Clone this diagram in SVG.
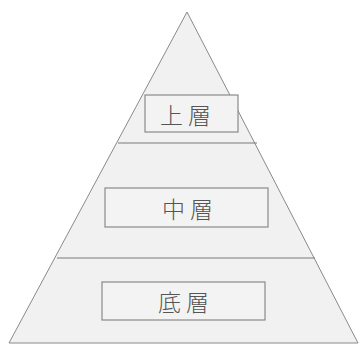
<svg xmlns="http://www.w3.org/2000/svg" width="360" height="345" viewBox="0 0 360 345">
<style>
.pyr{fill:#f1f1f1;stroke:#8a8a8a;stroke-width:1}
.div{stroke:#7a7a7a;stroke-width:1.2;fill:none}
.box{fill:#f3f3f3;stroke:#8a8a8a;stroke-width:1.2}
.lbl{font-family:"Noto Sans CJK JP","Noto Sans CJK TC",sans-serif;font-size:23px;font-weight:300;fill:#555;text-anchor:middle;dominant-baseline:central;letter-spacing:5px}
</style>
<rect width="360" height="345" fill="#fff"/>
<polygon class="pyr" points="187,12 358,343 9,343"/>
<g id="connectors">
<line class="div" x1="118" y1="143" x2="257" y2="143"/>
<line class="div" x1="57" y1="258" x2="315" y2="258"/>
</g>
<g id="top">
<rect class="box" x="145" y="95" width="93" height="37"/>
<text class="lbl" x="188" y="114">上層</text>
</g>
<g id="middle">
<rect class="box" x="105" y="188" width="163" height="39"/>
<text class="lbl" x="190" y="208">中層</text>
</g>
<g id="bottom">
<rect class="box" x="102" y="282" width="163" height="38"/>
<text class="lbl" x="186" y="301">底層</text>
</g>
</svg>
